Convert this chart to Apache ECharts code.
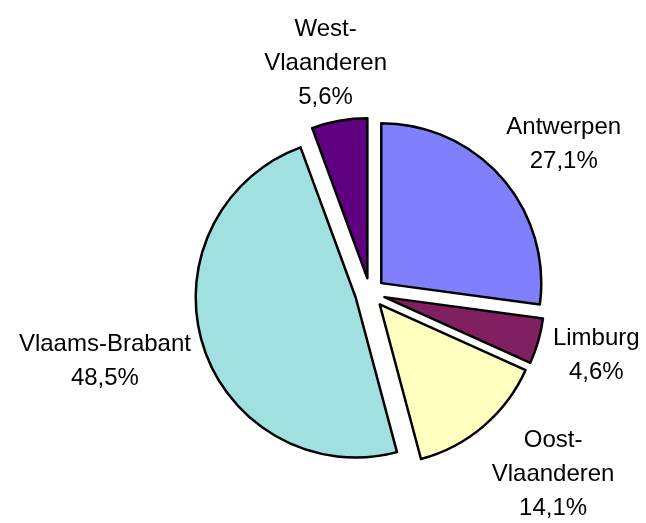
<!DOCTYPE html>
<html>
<head>
<meta charset="utf-8">
<script src="https://cdn.jsdelivr.net/npm/echarts@6/dist/echarts.min.js"></script>
<style>
  html, body { margin: 0; padding: 0; background: #fff; }
  #chart { width: 646px; height: 523px; }
</style>
</head>
<body>
<div id="chart"></div>
<script>
  // provincies, aandeel in %
  const provinces = ['Antwerpen', 'Limburg', 'Oost-Vlaanderen', 'Vlaams-Brabant', 'West-Vlaanderen'];
  const shares = [27.1, 4.6, 14.1, 48.5, 5.6];
  const colors = ['#8080FF', '#802060', '#FFFFC0', '#A0E0E0', '#600080'];

  const W = 646, H = 523;
  const cx = 370, cy = 293, R = 160, OFFSET = 15;
  const LABEL_DIST = 192, CLEAR = 178;
  const FONT = 24, LINE_H = 34, FAMILY = 'Liberation Sans, Arial, sans-serif';

  // mid angle of each slice, clockwise from 12 o'clock
  const total = shares.reduce((a, b) => a + b, 0);
  const midAngles = [];
  let acc = 0;
  shares.forEach(v => {
    midAngles.push((acc + v / 2) / total * Math.PI * 2);
    acc += v;
  });

  function labelText(name, value) {
    return name.replace('-Vlaanderen', '-\nVlaanderen') + '\n' +
      value.toFixed(1).replace('.', ',') + '%';
  }

  const ctx = document.createElement('canvas').getContext('2d');
  ctx.font = FONT + 'px ' + FAMILY;
  function textSize(txt) {
    const lines = txt.split('\n');
    const w = Math.max(...lines.map(l => ctx.measureText(l).width));
    return { w: w, h: lines.length * LINE_H };
  }

  function boxGap(x, y, w, h) {
    const nx = Math.max(x - w / 2, Math.min(cx, x + w / 2));
    const ny = Math.max(y - h / 2, Math.min(cy, y + h / 2));
    return Math.hypot(nx - cx, ny - cy);
  }

  // Excel-like label placement: box just outside the slice, on its mid angle
  function placeLabel(i) {
    const txt = labelText(provinces[i], shares[i]);
    const s = textSize(txt);
    const dx = Math.sin(midAngles[i]), dy = -Math.cos(midAngles[i]);
    let x = cx + dx * LABEL_DIST + dx * s.w / 2;
    let y = cy + dy * LABEL_DIST + dy * s.h / 2;
    y = Math.min(Math.max(y, s.h / 2 + 12), H - s.h / 2 + 2);
    x = Math.min(Math.max(x, s.w / 2 + 2), W - s.w / 2 - 2);
    const sx = dx >= 0 ? 1 : -1;
    let n = 0;
    while (boxGap(x, y, s.w, s.h) < CLEAR && n < 300) { x += sx; n++; }
    return {
      type: 'text',
      x: x,
      y: y,
      silent: true,
      style: {
        text: txt,
        fill: '#000',
        fontSize: FONT,
        fontFamily: FAMILY,
        lineHeight: LINE_H,
        align: 'center',
        verticalAlign: 'middle'
      }
    };
  }

  const chart = echarts.init(document.getElementById('chart'));

  const option = {
    animation: false,
    series: [
      {
        type: 'pie',
        center: [cx, cy],
        radius: R,
        startAngle: 90,
        clockwise: true,
        selectedMode: 'multiple',
        selectedOffset: OFFSET,
        data: provinces.map((name, i) => ({
          name: name,
          value: shares[i],
          selected: true,
          itemStyle: { color: colors[i] }
        })),
        itemStyle: { borderColor: '#000', borderWidth: 2.5 },
        select: { itemStyle: { borderColor: '#000', borderWidth: 2.5 } },
        emphasis: { disabled: true },
        label: { show: false },
        labelLine: { show: false }
      }
    ],
    graphic: provinces.map((p, i) => placeLabel(i))
  };

  chart.setOption(option);
</script>
</body>
</html>
